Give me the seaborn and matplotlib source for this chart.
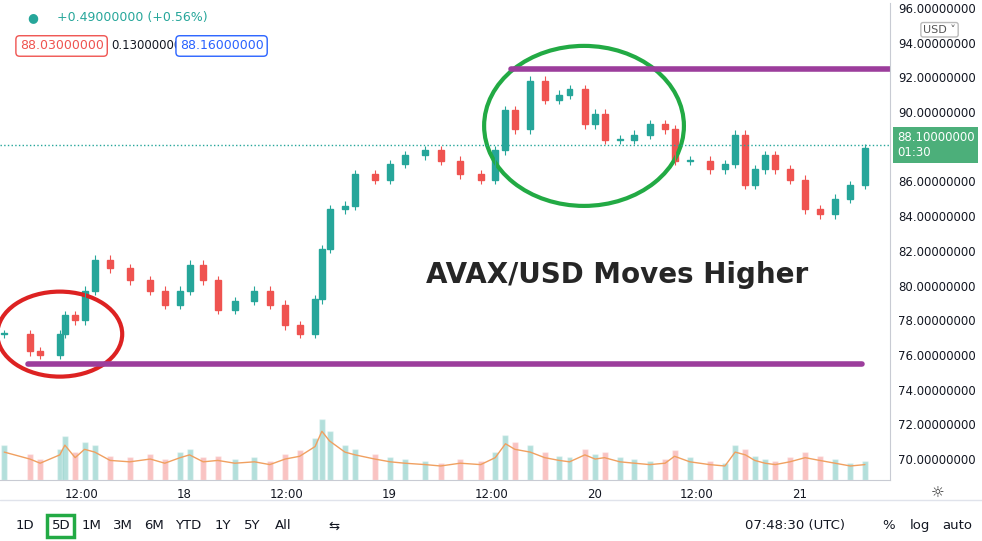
import matplotlib
matplotlib.use("Agg")
import matplotlib.pyplot as plt
import seaborn as sns
import numpy as np
from matplotlib.patches import Ellipse, FancyBboxPatch

sns.set_style("white")
plt.rcParams['font.family'] = ['DejaVu Sans']

# hours since Jan 17 00:00 (UTC)
hours = [2.9, 5.9, 7.1, 9.4, 10.0, 11.2, 12.3, 13.5, 15.3, 17.6, 20.0, 21.7, 23.5, 24.6, 26.2,
         27.9, 29.9, 32.2, 34.0, 35.8, 37.5, 39.3, 40.1, 41.0, 42.8, 44.0, 46.3, 48.1, 49.8, 52.2,
         54.0, 56.3, 58.7, 60.4, 61.6, 62.7, 64.5, 66.2, 67.9, 69.1, 70.9, 72.1, 73.2, 75.0, 76.7,
         78.5, 80.3, 81.4, 83.2, 85.5, 87.3, 88.5, 89.7, 90.8, 92.0, 93.2, 94.9, 96.7, 98.4, 100.2,
         102.0, 103.7]
closes = [77.2, 76.2, 76.0, 77.2, 78.3, 78.0, 79.7, 81.5, 81.0, 80.3, 79.7, 78.9, 79.7, 81.2, 80.3,
          78.6, 79.1, 79.7, 78.9, 77.7, 77.2, 79.2, 82.1, 84.4, 84.6, 86.4, 86.1, 87.0, 87.5, 87.8,
          87.2, 86.4, 86.1, 87.8, 90.1, 89.0, 91.8, 90.7, 91.0, 91.3, 89.3, 89.9, 88.4, 88.4, 88.7,
          89.3, 89.0, 87.2, 87.2, 86.7, 87.0, 88.7, 85.8, 86.7, 87.5, 86.7, 86.1, 84.4, 84.1, 85.0,
          85.8, 87.9]
volumes = [2.0, 1.5, 1.2, 1.8, 2.5, 1.6, 2.2, 2.0, 1.4, 1.3, 1.5, 1.2, 1.6, 1.8, 1.3,
           1.4, 1.2, 1.3, 1.1, 1.5, 1.7, 2.4, 3.5, 2.8, 2.0, 1.8, 1.5, 1.3, 1.2, 1.1,
           1.0, 1.2, 1.1, 1.6, 2.6, 2.2, 2.0, 1.6, 1.4, 1.3, 1.8, 1.5, 1.6, 1.3, 1.2,
           1.1, 1.2, 1.7, 1.3, 1.1, 1.0, 2.0, 1.8, 1.4, 1.2, 1.1, 1.3, 1.6, 1.4, 1.2,
           1.0, 1.1]
tick_hours = [12, 24, 36, 48, 60, 72, 84, 96]
tick_labels = ["12:00", "18", "12:00", "19", "12:00", "20", "12:00", "21"]
price_ticks = [p for p in range(70, 97, 2) if p != 88]
support, resistance, last_price = 75.48, 92.48, 88.10

GREEN, RED = "#26a69a", "#ef5350"
fig = plt.figure(figsize=(9.82, 5.41), dpi=100)
ax = fig.add_axes([0.0, 0.113, 0.906, 0.882])
x0, x1 = 2.4, 106.6
ax.set_xlim(x0, x1)
ax.set_ylim(68.8, 96.3)

opens = [closes[0]] + closes[:-1]
w = 0.7
for h, o, c in zip(hours, opens, closes):
    col = GREEN if c >= o else RED
    lo, hi = min(o, c), max(o, c)
    ax.vlines(h, lo - 0.25, hi + 0.25, color=col, lw=0.8)
    ax.bar(h, max(hi - lo, 0.05), bottom=lo, width=w, color=col, edgecolor=col)
for h, o, c, v in zip(hours, opens, closes, volumes):
    col = GREEN if c >= o else RED
    ax.bar(h, v, bottom=68.8, width=w, color=col, alpha=0.35)
sns.lineplot(x=hours, y=[68.8 + v * 0.8 for v in volumes], ax=ax, color="#f0a060", lw=1)

ax.axhline(last_price, color=GREEN, ls=":", lw=1)
ax.plot([62.3, x1], [resistance] * 2, color="#9c3d9c", lw=4)
ax.plot([5.7, 103.3], [support] * 2, color="#9c3d9c", lw=4)
ax.add_patch(Ellipse((70.8, 89.2), 200 * 0.117, 160 / 17.35, fill=False, ec="#22aa44", lw=3))
ax.add_patch(Ellipse((9.4, 77.2), 125 * 0.117, 85 / 17.35, fill=False, ec="#dd2222", lw=3))
ax.text(74.7, 80.6, "AVAX/USD Moves Higher", fontsize=20, fontweight="bold", ha="center", va="center")

ax.yaxis.tick_right()
ax.set_yticks(price_ticks)
ax.set_yticklabels([f"{p:.8f}" for p in price_ticks], fontsize=8.5, color="#131722")
ax.set_xticks(tick_hours)
ax.set_xticklabels(tick_labels, fontsize=8.5, color="#131722")
ax.tick_params(length=0, pad=6)
for s in ["top", "left"]:
    ax.spines[s].set_visible(False)
for s in ["right", "bottom"]:
    ax.spines[s].set_color("#c8cbd3")

ax.text(1.008, last_price, "88.10000000\n01:30", transform=ax.get_yaxis_transform(), fontsize=8.5,
        color="white", va="center", ha="left",
        bbox=dict(boxstyle="square,pad=0.3", fc="#4caf7a", ec="none"))

fig.text(0.028, 0.967, "●", color=GREEN, fontsize=9, va="center")
fig.text(0.058, 0.967, "+0.49000000 (+0.56%)", color=GREEN, fontsize=9, va="center")
fig.text(0.02, 0.915, "88.03000000", color="#ef5350", fontsize=9, va="center",
         bbox=dict(boxstyle="round,pad=0.3", fc="white", ec="#ef5350"))
fig.text(0.113, 0.915, "0.13000000", color="#131722", fontsize=8.5, va="center")
fig.text(0.183, 0.915, "88.16000000", color="#2962ff", fontsize=9, va="center",
         bbox=dict(boxstyle="round,pad=0.3", fc="white", ec="#2962ff"))
fig.text(0.94, 0.945, "USD ˅", fontsize=8, color="#555", va="center",
         bbox=dict(boxstyle="round,pad=0.2", fc="white", ec="#bbb"))
fig.text(0.955, 0.087, "☼", fontsize=11, color="#333", ha="center", va="center")

fig.add_artist(plt.Line2D([0, 1], [0.075, 0.075], color="#e0e3eb", lw=1))
items = [("1D", 0.025), ("5D", 0.062), ("1M", 0.093), ("3M", 0.125), ("6M", 0.157), ("YTD", 0.192),
         ("1Y", 0.227), ("5Y", 0.257), ("All", 0.288), ("⇆", 0.34)]
for t, xp in items:
    fig.text(xp, 0.028, t, fontsize=9.5, color="#131722", ha="center", va="center")
fig.add_artist(FancyBboxPatch((0.048, 0.008), 0.027, 0.04, boxstyle="square,pad=0",
                              fill=False, ec="#22aa44", lw=2.5, transform=fig.transFigure))
fig.text(0.81, 0.028, "07:48:30 (UTC)", fontsize=9.5, color="#131722", ha="center", va="center")
for t, xp in [("%", 0.905), ("log", 0.937), ("auto", 0.975)]:
    fig.text(xp, 0.028, t, fontsize=9.5, color="#131722", ha="center", va="center")

fig.savefig("out.png", dpi=100)
